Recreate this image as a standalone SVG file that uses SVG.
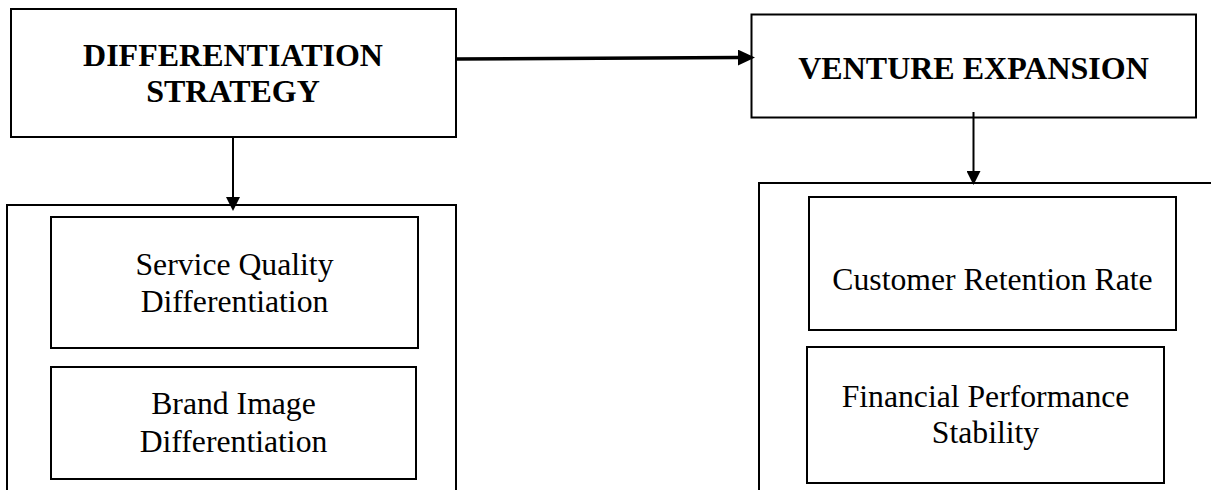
<svg xmlns="http://www.w3.org/2000/svg" width="1211" height="490" viewBox="0 0 1211 490">
  <style>
    .box { fill: #ffffff; stroke: #000000; stroke-width: 2; }
    .open { fill: none; stroke: #000000; stroke-width: 2; }
    .title { font-family: "Liberation Serif", "Times New Roman", serif; font-size: 32px; font-weight: bold; fill: #000000; text-anchor: middle; }
    .label { font-family: "Liberation Serif", "Times New Roman", serif; font-size: 31.7px; fill: #000000; text-anchor: middle; }
    .conn { fill: none; stroke: #000000; }
  </style>
  <defs>
    <marker id="headBig" markerUnits="userSpaceOnUse" markerWidth="18" markerHeight="16" refX="0" refY="8" orient="auto" viewBox="0 0 18 16">
      <path d="M0,0 L17,8 L0,16 z" fill="#000000"/>
    </marker>
    <marker id="headSmall" markerUnits="userSpaceOnUse" markerWidth="14" markerHeight="14" refX="0" refY="7" orient="auto" viewBox="0 0 14 14">
      <path d="M0,0 L14,7 L0,14 z" fill="#000000"/>
    </marker>
  </defs>
  <rect width="1211" height="490" fill="#ffffff"/>

  <g id="group-left">
    <path class="open" d="M7,492 V205 H456 V492"/>
  </g>
  <g id="group-right">
    <path class="open" d="M759,492 V183 H1213"/>
  </g>

  <g id="differentiation-strategy">
    <rect class="box" x="11" y="9" width="445" height="128"/>
    <text class="title" x="233" y="66">DIFFERENTIATION</text>
    <text class="title" x="233" y="101.5">STRATEGY</text>
  </g>

  <g id="venture-expansion">
    <rect class="box" x="751.5" y="14.5" width="444.5" height="103"/>
    <text class="title" x="973.5" y="79">VENTURE EXPANSION</text>
  </g>

  <g id="service-quality">
    <rect class="box" x="51" y="217" width="367" height="131"/>
    <text class="label" x="234.5" y="275">Service Quality</text>
    <text class="label" x="234.5" y="312">Differentiation</text>
  </g>

  <g id="brand-image">
    <rect class="box" x="51" y="367" width="365" height="112"/>
    <text class="label" x="233.5" y="414">Brand Image</text>
    <text class="label" x="233.5" y="451.5">Differentiation</text>
  </g>

  <g id="customer-retention">
    <rect class="box" x="809" y="197" width="367" height="133"/>
    <text class="label" x="992.5" y="290">Customer Retention Rate</text>
  </g>

  <g id="financial-performance">
    <rect class="box" x="807" y="347" width="357" height="136"/>
    <text class="label" x="985.5" y="406.5">Financial Performance</text>
    <text class="label" x="985.5" y="443">Stability</text>
  </g>

  <g id="connectors">
    <line class="conn" x1="455" y1="59" x2="738" y2="57.6" stroke-width="3.5" marker-end="url(#headBig)"/>
    <line class="conn" x1="233" y1="137" x2="233" y2="197" stroke-width="2" marker-end="url(#headSmall)"/>
    <line class="conn" x1="973.5" y1="112" x2="973.5" y2="171" stroke-width="2" marker-end="url(#headSmall)"/>
  </g>
</svg>
